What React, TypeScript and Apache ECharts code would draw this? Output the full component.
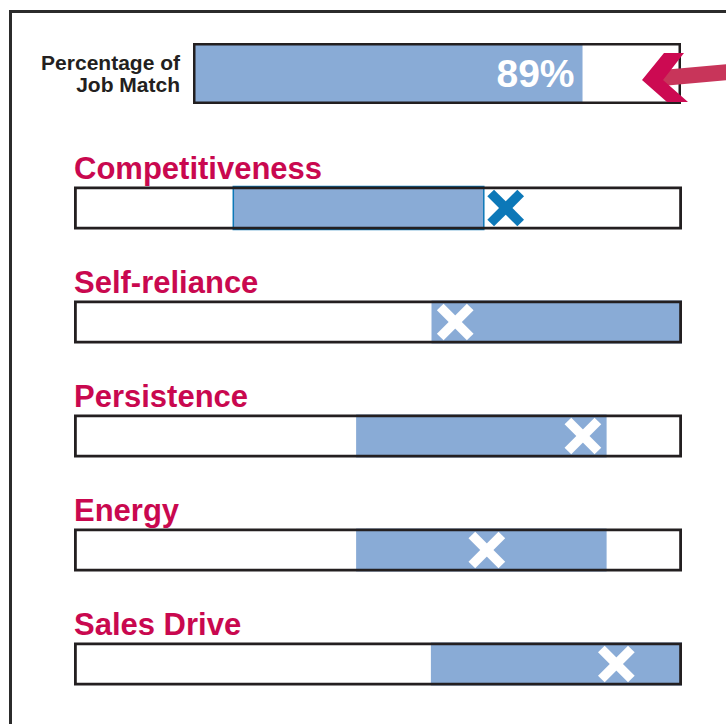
import { useEffect, useRef } from "react";
import * as echarts from "echarts";

// ---- data ----
const matchLabel = "Percentage of\nJob Match";
const matchValue = 89;
const matchAxisMax = 111.5;

const traits = ["Competitiveness", "Self-reliance", "Persistence", "Energy", "Sales Drive"];
const rangeLow = [26.2, 58.8, 46.4, 46.4, 58.7];
const rangeHigh = [67.4, 100, 87.6, 87.6, 100];
const markers = [71.0, 62.7, 83.7, 67.9, 89.2];

// ---- styles ----
const FILL = "#89abd6";
const INK = "#231f20";
const PINK = "#c9084f";
const XBLUE = "#0c78b8";
const FONT = "'Liberation Sans', Arial, Helvetica, sans-serif";

export default function App() {
  const ref = useRef<HTMLDivElement>(null);
  useEffect(() => {
    const chart = echarts.init(ref.current!, null, { renderer: "svg" });
    const option: any = {
      animation: false,
      backgroundColor: "#ffffff",
      grid: [
        { left: 193, top: 43, width: 488, height: 61 },
        { left: 74, top: 151, width: 608, height: 570 },
      ],
      xAxis: [
        { gridIndex: 0, type: "value", min: 0, max: matchAxisMax, show: false },
        { gridIndex: 1, type: "value", min: 0, max: 100, show: false },
      ],
      yAxis: [
        {
          gridIndex: 0,
          type: "category",
          data: [matchLabel],
          axisLine: { show: false },
          axisTick: { show: false },
          splitLine: { show: false },
          axisLabel: {
            margin: 13,
            fontSize: 21,
            lineHeight: 22,
            fontWeight: "bold",
            color: INK,
            fontFamily: FONT,
            align: "right",
          },
        },
        { gridIndex: 1, type: "category", data: traits, inverse: true, show: false },
      ],
      series: [
        {
          type: "custom",
          xAxisIndex: 0,
          yAxisIndex: 0,
          data: [[matchValue, 0]],
          encode: { x: 0, y: 1 },
          renderItem: (params: any, api: any) => {
            const cs = params.coordSys;
            const v = api.value(0);
            const xEnd = api.coord([v, 0])[0];
            return {
              type: "group",
              children: [
                { type: "rect", shape: { x: cs.x, y: cs.y, width: xEnd - cs.x, height: cs.height }, style: { fill: FILL } },
                {
                  type: "rect",
                  shape: { x: cs.x + 1.25, y: cs.y + 1.25, width: cs.width - 2.5, height: cs.height - 2.5 },
                  style: { fill: "none", stroke: INK, lineWidth: 2.5 },
                },
                {
                  type: "text",
                  x: xEnd - 8,
                  y: cs.y + cs.height / 2,
                  style: {
                    text: v + "%",
                    fill: "#ffffff",
                    fontSize: 39,
                    fontWeight: "bold",
                    fontFamily: FONT,
                    align: "right",
                    verticalAlign: "middle",
                  },
                },
              ],
            };
          },
        },
        {
          type: "custom",
          xAxisIndex: 1,
          yAxisIndex: 1,
          data: traits.map((_, i) => [rangeLow[i], rangeHigh[i], markers[i], i]),
          encode: { x: [0, 1, 2], y: 3 },
          renderItem: (params: any, api: any) => {
            const cs = params.coordSys;
            const lo = api.value(0);
            const hi = api.value(1);
            const mk = api.value(2);
            const idx = api.value(3);
            const cy = api.coord([0, idx])[1];
            const xLo = api.coord([lo, idx])[0];
            const xHi = api.coord([hi, idx])[0];
            const xMk = api.coord([mk, idx])[0];
            const h = 43;
            const top = cy - h / 2;
            const inside = mk >= lo && mk <= hi;
            const xColor = inside ? "#ffffff" : XBLUE;
            const arm = 15;
            return {
              type: "group",
              children: [
                { type: "rect", shape: { x: cs.x, y: top, width: cs.width, height: h }, style: { fill: "#ffffff" } },
                {
                  type: "rect",
                  shape: { x: xLo, y: top, width: xHi - xLo, height: h },
                  style: { fill: FILL, stroke: inside ? null : XBLUE, lineWidth: 1.5 },
                },
                {
                  type: "rect",
                  shape: { x: cs.x + 1.4, y: top + 1.4, width: cs.width - 2.8, height: h - 2.8 },
                  style: { fill: "none", stroke: INK, lineWidth: 2.8 },
                },
                {
                  type: "line",
                  shape: { x1: xMk - arm, y1: cy - arm, x2: xMk + arm, y2: cy + arm },
                  style: { stroke: xColor, lineWidth: 9.5 },
                },
                {
                  type: "line",
                  shape: { x1: xMk - arm, y1: cy + arm, x2: xMk + arm, y2: cy - arm },
                  style: { stroke: xColor, lineWidth: 9.5 },
                },
                {
                  type: "text",
                  x: cs.x,
                  y: cy - 40,
                  style: {
                    text: traits[idx],
                    fill: PINK,
                    fontSize: 31,
                    fontWeight: "bold",
                    fontFamily: FONT,
                    align: "left",
                    verticalAlign: "middle",
                  },
                },
              ],
            };
          },
        },
      ],
      graphic: [
        {
          type: "rect",
          z: 1,
          shape: { x: 10.5, y: 11.5, width: 800, height: 800 },
          style: { fill: "none", stroke: "#2b2b2b", lineWidth: 3 },
        },
        {
          type: "polygon",
          z: 10,
          shape: { points: [[662, 70], [730, 64], [730, 80], [662, 86]] },
          style: { fill: "#c8355a" },
        },
        {
          type: "polygon",
          z: 11,
          shape: { points: [[642, 80], [664, 53], [684, 53], [663, 80], [688, 102], [667, 102]] },
          style: { fill: "#cc0a52" },
        },
      ],
    };
    chart.setOption(option);
    return () => chart.dispose();
  }, []);
  return <div ref={ref} style={{ position: "absolute", left: 0, top: 0, width: 726, height: 724 }} />;
}
